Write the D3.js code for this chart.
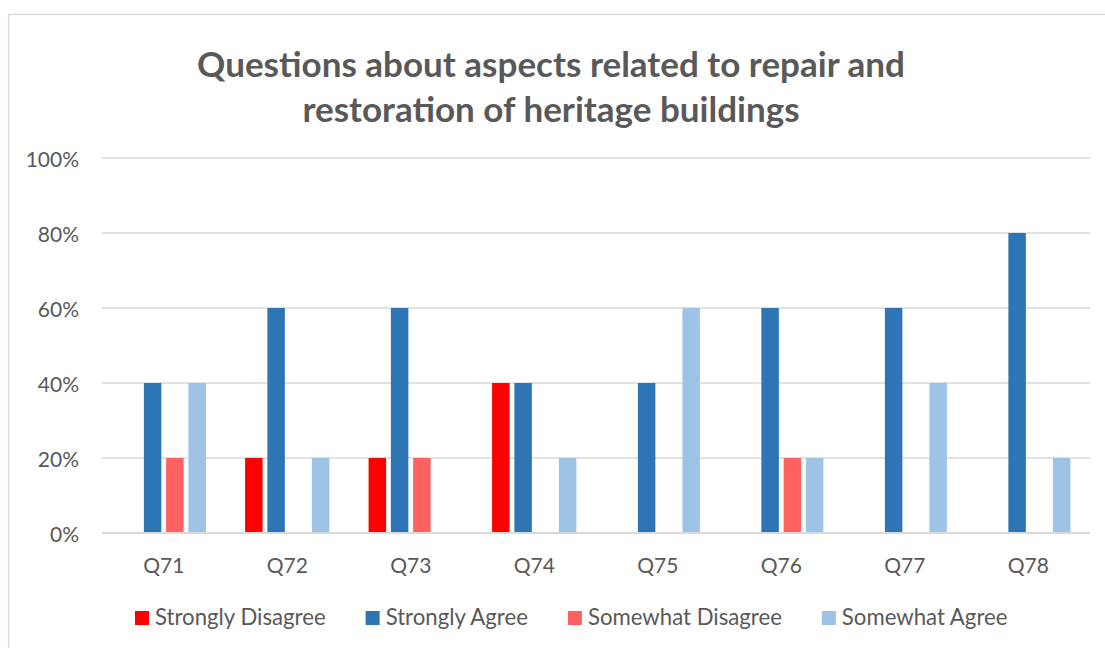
<!DOCTYPE html>
<html><head><meta charset="utf-8">
<script src="https://cdn.jsdelivr.net/npm/d3@7"></script>
<style>
body{margin:0;background:#fff}
svg text{font-family:Lato,"Open Sans",sans-serif;fill:#595959}
</style>
</head><body>
<svg id="c" width="1105" height="648"></svg>
<script>
const categories = ["Q71","Q72","Q73","Q74","Q75","Q76","Q77","Q78"];
const seriesNames = ["Strongly Disagree","Strongly Agree","Somewhat Disagree","Somewhat Agree"];
const stronglyDisagree = [0,20,20,40,0,0,0,0];
const stronglyAgree    = [40,60,60,40,40,60,60,80];
const somewhatDisagree = [20,0,20,0,0,20,0,0];
const somewhatAgree    = [40,20,0,20,60,20,40,20];
const yTicks = [0,20,40,60,80,100];
const titleLines = ["Questions about aspects related to repair and","restoration of heritage buildings"];
const seriesColors = ["#FF0000","#2E75B6","#FF6161","#9DC3E6"];

const seriesValues = [stronglyDisagree, stronglyAgree, somewhatDisagree, somewhatAgree];
const rows = categories.map((c,i)=>({cat:c, vals: seriesNames.map((s,j)=>({s, v: seriesValues[j][i], color: seriesColors[j]}))}));

const svg = d3.select("#c");
svg.append("rect").attr("x",8.5).attr("y",14.5).attr("width",1110).attr("height",700)
  .attr("fill","#fff").attr("stroke","#D9D9D9").attr("stroke-width",1.3);

const L=102, R=1090, T=158, B=533;
const x0 = d3.scaleBand().domain(categories).range([L,R]).padding(0);
const groupW = 84.3;
const x1 = d3.scaleBand().domain(seriesNames).range([0,groupW]).paddingInner(0.215).paddingOuter(0);
const y = d3.scaleLinear().domain([0,100]).range([B,T]);

// gridlines
svg.append("g").selectAll("line").data(yTicks.filter(d=>d>0)).join("line")
  .attr("x1",L).attr("x2",R).attr("y1",d=>y(d)).attr("y2",d=>y(d))
  .attr("stroke","#D9D9D9").attr("stroke-width",1.3);

// bars
const off = (x0.bandwidth()-groupW)/2;
svg.append("g").selectAll("g").data(rows).join("g")
  .attr("transform",d=>`translate(${x0(d.cat)+off},0)`)
  .selectAll("rect").data(d=>d.vals).join("rect")
  .attr("x",d=>x1(d.s)).attr("width",x1.bandwidth())
  .attr("y",d=>y(d.v)).attr("height",d=>B-y(d.v))
  .attr("fill",d=>d.color);

// baseline
svg.append("line").attr("x1",L).attr("x2",R).attr("y1",B).attr("y2",B)
  .attr("stroke","#D9D9D9").attr("stroke-width",2.2);

// y axis
const yAx = svg.append("g").attr("transform","translate(79,0)")
  .call(d3.axisLeft(y).tickValues(yTicks).tickFormat(d=>d+"%").tickSize(0).tickPadding(0));
yAx.select(".domain").remove();
yAx.selectAll("text").attr("dy","0.41em").style("font-size","21px").style("fill","#595959").style("font-family","Lato");

// x axis
const xAx = svg.append("g").attr("transform",`translate(0,${B})`)
  .call(d3.axisBottom(x0).tickSize(0).tickPadding(25));
xAx.select(".domain").remove();
xAx.selectAll("text").style("font-size","21px").style("fill","#595959").style("font-family","Lato");

// title
const tg = svg.append("g");
const t1 = tg.append("text").attr("x",551).attr("y",76.7).attr("text-anchor","middle")
  .style("font-size","31px").style("font-weight","bold").text(titleLines[0]);
const w1 = t1.node().getComputedTextLength();
const fs = 31*708/w1;
t1.style("font-size",fs+"px");
tg.append("text").attr("x",551).attr("y",121.7).attr("text-anchor","middle")
  .style("font-size",fs+"px").style("font-weight","bold").text(titleLines[1]);

// legend
const lg = svg.append("g");
const items = lg.selectAll("g").data(seriesNames).join("g");
items.append("rect").attr("width",14).attr("height",14).attr("y",611).attr("fill",(d,i)=>seriesColors[i]);
items.append("text").attr("x",20).attr("y",625).style("font-size","22.2px").text(d=>d);
let cx = 0; const pos=[];
items.each(function(){ const w=d3.select(this).select("text").node().getComputedTextLength(); pos.push(cx); cx += 20 + w + 40; });
const startX = 135;
items.attr("transform",(d,i)=>`translate(${startX+pos[i]},0)`);
</script>
</body></html>
